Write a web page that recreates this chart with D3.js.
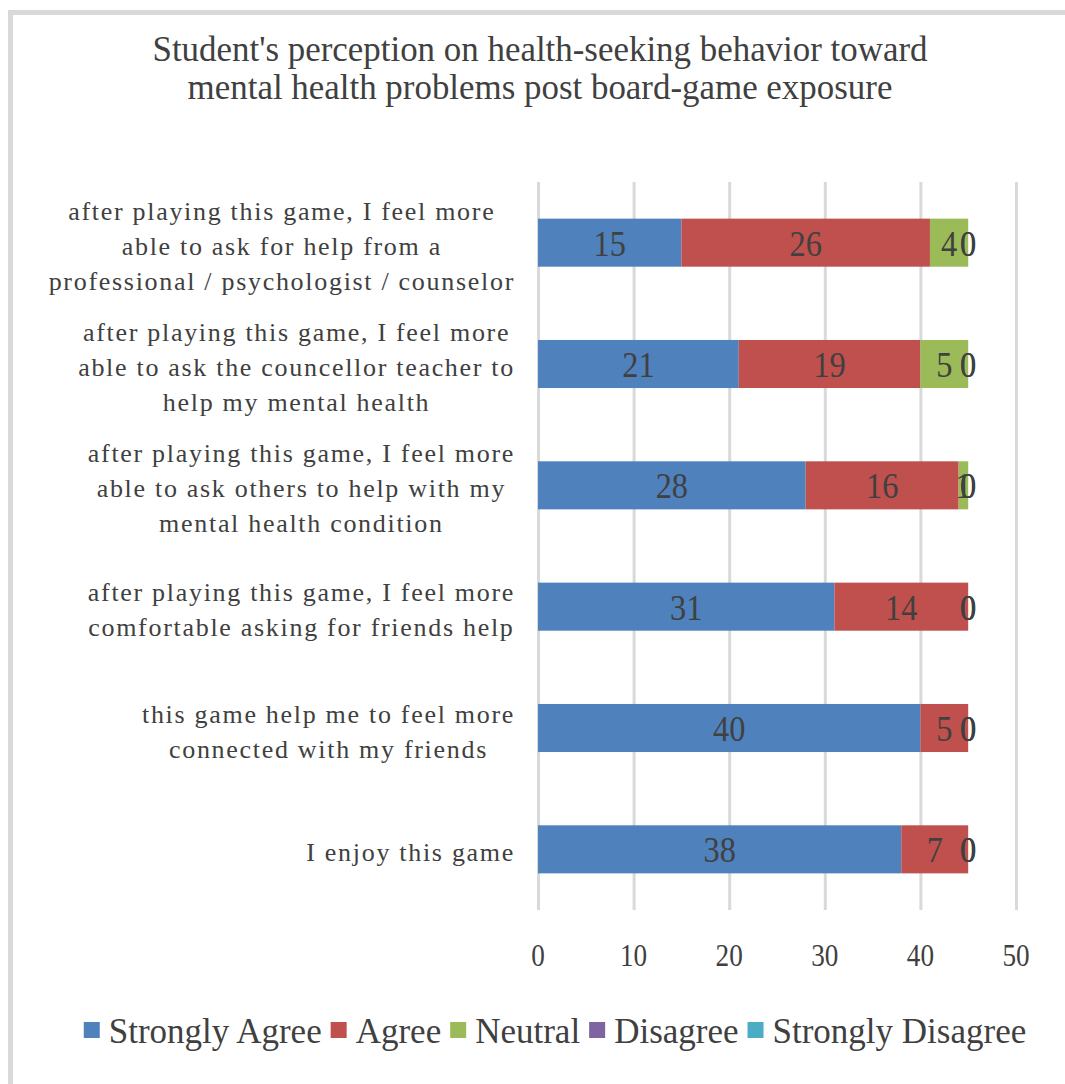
<!DOCTYPE html>
<html>
<head>
<meta charset="utf-8">
<script src="https://cdn.jsdelivr.net/npm/d3@7"></script>
<style>
  html, body { margin: 0; padding: 0; background: #ffffff; }
  svg { display: block; }
  text { font-family: "Liberation Serif", "Times New Roman", serif; fill: #404040; }
</style>
</head>
<body>
<svg id="chart" width="1065" height="1084"></svg>
<script>
// ---- data ----
const titleLines = [
  "Student's perception on health-seeking behavior toward",
  "mental health problems post board-game exposure"
];
const categories = [
  ["after playing this game, I feel more", "able to ask for help from a", "professional / psychologist / counselor"],
  ["after playing this game, I feel more", "able to ask the councellor teacher to", "help my mental health"],
  ["after playing this game, I feel more", "able to ask others to help with my", "mental health condition"],
  ["after playing this game, I feel more", "comfortable asking for friends help"],
  ["this game help me to feel more", "connected with my friends"],
  ["I enjoy this game"]
];
const seriesNames = ["Strongly Agree", "Agree", "Neutral", "Disagree", "Strongly Disagree"];
const stronglyAgree    = [15, 21, 28, 31, 40, 38];
const agree            = [26, 19, 16, 14, 5, 7];
const neutral          = [4, 5, 1, 0, 0, 0];
const disagree         = [0, 0, 0, 0, 0, 0];
const stronglyDisagree = [0, 0, 0, 0, 0, 0];
const tickValues = [0, 10, 20, 30, 40, 50];
const colors = ["#4f81bd", "#c0504d", "#9bbb59", "#8064a2", "#4bacc6"];

const seriesValues = [stronglyAgree, agree, neutral, disagree, stronglyDisagree];

// ---- setup ----
const svg = d3.select("#chart");

// frame
svg.append("line").attr("x1", 10.5).attr("x2", 10.5).attr("y1", 10).attr("y2", 1084)
  .attr("stroke", "#d9d9d9").attr("stroke-width", 5);
svg.append("line").attr("x1", 8).attr("x2", 1065).attr("y1", 12.5).attr("y2", 12.5)
  .attr("stroke", "#d9d9d9").attr("stroke-width", 5);

function sText(g, x, y, str, size, sx, anchor) {
  return g.append("text")
    .attr("transform", `translate(${x},${y}) scale(${sx},1)`)
    .attr("text-anchor", anchor || "middle")
    .style("font-size", size + "px")
    .text(str);
}

// title
titleLines.forEach((t, i) => {
  sText(svg, 540, 61 + i * 38, t, 36, 0.97, "middle");
});

const x = d3.scaleLinear().domain([0, 50]).range([538, 1016]);
const rows = categories.map((c, i) => i);
const y = d3.scaleBand().domain(rows).range([182, 910]).paddingInner(0.604).paddingOuter(0.302);

// gridlines via axis
const gridAxis = d3.axisBottom(x).tickValues(tickValues).tickSize(-(910 - 182)).tickFormat("");
const grid = svg.append("g").attr("transform", "translate(0,910)").call(gridAxis);
grid.select(".domain").remove();
grid.selectAll(".tick line").attr("stroke", "#d9d9d9").attr("stroke-width", 3);

// tick labels
const axisG = svg.append("g");
tickValues.forEach(v => {
  sText(axisG, x(v), 966, d3.format("d")(v), 32, 0.85, "middle");
});

// stacked data
const table = rows.map(i => {
  const o = { idx: i };
  seriesNames.forEach((s, k) => o[s] = seriesValues[k][i]);
  return o;
});
const stack = d3.stack().keys(seriesNames);
const stacked = stack(table);

const barsG = svg.append("g");
stacked.forEach((layer, k) => {
  barsG.selectAll(null).data(layer).enter().append("rect")
    .attr("x", d => x(d[0]))
    .attr("y", d => y(d.data.idx))
    .attr("width", d => x(d[1]) - x(d[0]))
    .attr("height", y.bandwidth())
    .attr("fill", colors[k]);
});

// data labels
const labelsG = svg.append("g");
stacked.forEach((layer, k) => {
  layer.forEach(d => {
    const cx = x((d[0] + d[1]) / 2);
    const cy = y(d.data.idx) + y.bandwidth() / 2 + 13;
    sText(labelsG, cx, cy, String(d[1] - d[0]), 36, 0.9, "middle");
  });
});

// category labels
const catG = svg.append("g");
const lineH = 35;
const catSize = "26px", catSpacing = "1.7px";
categories.forEach((lines, i) => {
  const cyc = y(i) + y.bandwidth() / 2 + 3;
  const temp = lines.map(l => catG.append("text").style("font-size", catSize).style("letter-spacing", catSpacing).text(l));
  const maxW = d3.max(temp, t => t.node().getComputedTextLength());
  temp.forEach(t => t.remove());
  const centerX = 515 - maxW / 2;
  const n = lines.length;
  lines.forEach((l, j) => {
    catG.append("text")
      .attr("x", centerX)
      .attr("y", cyc + (j - (n - 1) / 2) * lineH + 9)
      .attr("text-anchor", "middle")
      .style("font-size", catSize)
      .style("letter-spacing", catSpacing)
      .text(l);
  });
});

// legend
const legG = svg.append("g");
const legY = 1043;
let cursor = 0;
seriesNames.forEach((s, k) => {
  const g = legG.append("g");
  g.append("rect").attr("x", cursor).attr("y", legY - 21).attr("width", 16).attr("height", 16).attr("fill", colors[k]);
  const t = g.append("text").attr("x", cursor + 25).attr("y", legY).style("font-size", "35px").text(s);
  const w = t.node().getComputedTextLength();
  cursor += 25 + w + 9;
});
const totalW = cursor - 9;
legG.attr("transform", `translate(${555 - totalW / 2},0)`);
</script>
</body>
</html>
